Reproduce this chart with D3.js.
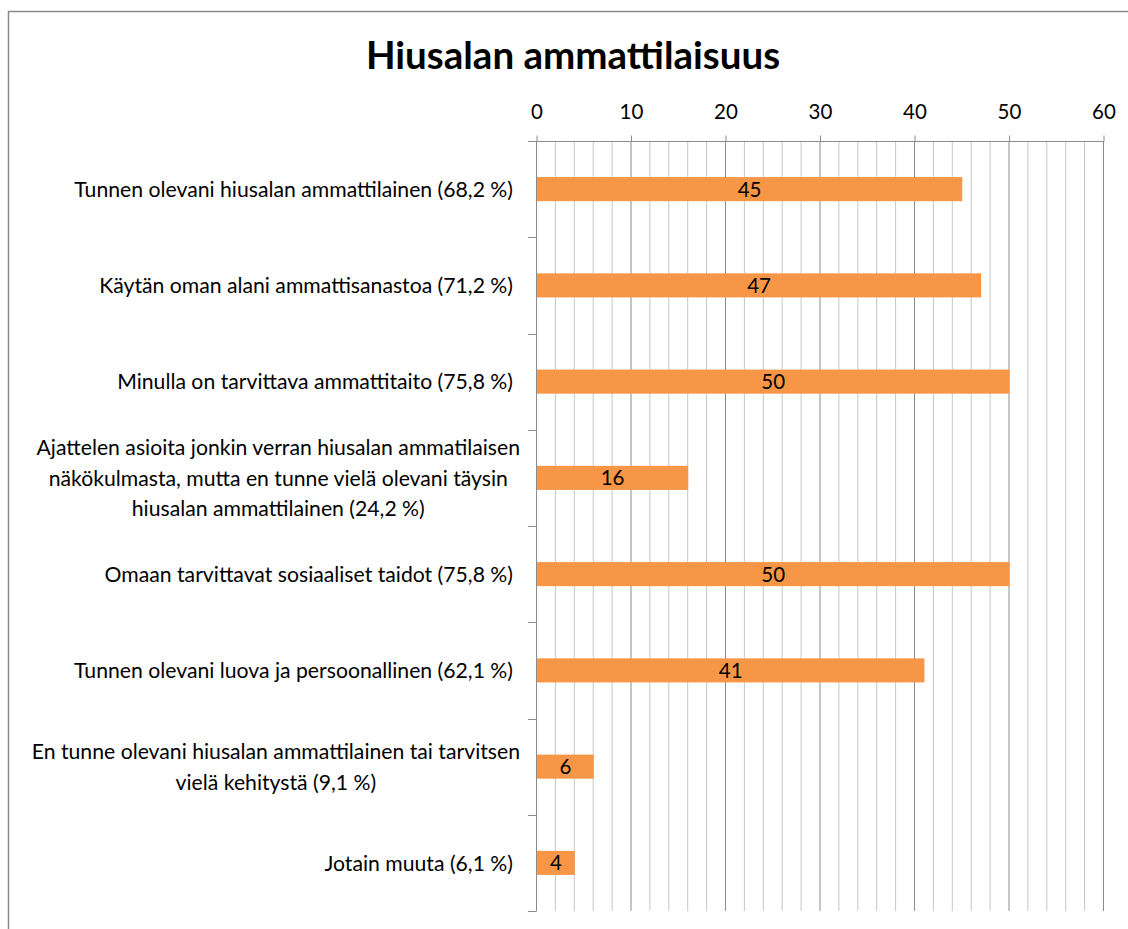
<!DOCTYPE html>
<html><head><meta charset="utf-8">
<script src="https://cdn.jsdelivr.net/npm/d3@7"></script>
<style>
body{margin:0;background:#fff;overflow:hidden}
text{font-family:Lato,"Open Sans",sans-serif;fill:#000}
</style></head><body>
<svg id="c" width="1128" height="929"></svg>
<script>
const title = "Hiusalan ammattilaisuus";
const categories = [
  "Tunnen olevani hiusalan ammattilainen (68,2 %)",
  "Käytän oman alani ammattisanastoa (71,2 %)",
  "Minulla on tarvittava ammattitaito (75,8 %)",
  "Ajattelen asioita jonkin verran hiusalan ammatilaisen\nnäkökulmasta, mutta en tunne vielä olevani täysin\nhiusalan ammattilainen (24,2 %)",
  "Omaan tarvittavat sosiaaliset taidot (75,8 %)",
  "Tunnen olevani luova ja persoonallinen (62,1 %)",
  "En tunne olevani hiusalan ammattilainen tai tarvitsen\nvielä kehitystä (9,1 %)",
  "Jotain muuta (6,1 %)"
];
const values = [45, 47, 50, 16, 50, 41, 6, 4];
const xTicks = [0, 10, 20, 30, 40, 50, 60];
const xMinorStep = 2;

const svg = d3.select("#c");
const LFS = 21.2;   // category label size
const TFS = 20.5;   // tick / data label size

// frame
svg.append("rect").attr("x", 8.5).attr("y", 11.5).attr("width", 1140).attr("height", 940)
  .attr("fill", "none").attr("stroke", "#8a8a8a").attr("stroke-width", 1.5);

const x = d3.scaleLinear().domain([0, 60]).range([536, 1103]);
const y = d3.scaleBand().domain(categories).range([141, 911]).paddingInner(0.75).paddingOuter(0.375);
const yb = d3.scaleBand().domain(categories).range([141, 911]);

// minor gridlines
const minor = d3.range(0, 61, xMinorStep).filter(v => v % 10 !== 0);
svg.append("g").selectAll("line").data(minor).join("line")
  .attr("x1", d => x(d) + 0.5).attr("x2", d => x(d) + 0.5)
  .attr("y1", 141).attr("y2", 911)
  .attr("stroke", "#c6c6c6").attr("stroke-width", 1);
// major gridlines
svg.append("g").selectAll("line").data(xTicks.filter(v => v > 0)).join("line")
  .attr("x1", d => x(d) + 0.5).attr("x2", d => x(d) + 0.5)
  .attr("y1", 141).attr("y2", 911)
  .attr("stroke", "#8c8c8c").attr("stroke-width", 1);

// top axis
const xAxis = d3.axisTop(x).tickValues(xTicks).tickSize(6).tickPadding(17).tickSizeOuter(0);
const gx = svg.append("g").attr("transform", "translate(0.5,141.5)").call(xAxis);
gx.select(".domain").attr("d", "M528,0H1103").attr("stroke", "#8c8c8c");
gx.selectAll(".tick line").attr("stroke", "#8c8c8c");
gx.selectAll(".tick text").attr("font-size", TFS).attr("font-family", "Lato").attr("fill", "#000").attr("dy", "0");

// left axis line + category ticks
svg.append("line").attr("x1", 536.5).attr("x2", 536.5).attr("y1", 141).attr("y2", 911.5)
  .attr("stroke", "#8c8c8c");
const bounds = categories.map(c => yb(c)).concat([911]);
svg.append("g").selectAll("line").data(bounds).join("line")
  .attr("x1", 528).attr("x2", 536).attr("y1", d => Math.round(d) + 0.5).attr("y2", d => Math.round(d) + 0.5)
  .attr("stroke", "#8c8c8c");

// bars
svg.append("g").selectAll("rect").data(values).join("rect")
  .attr("x", x(0) + 1).attr("y", (d, i) => y(categories[i]))
  .attr("width", d => x(d) - x(0)).attr("height", y.bandwidth())
  .attr("fill", "#F79646");

// data labels
svg.append("g").selectAll("text").data(values).join("text")
  .attr("x", d => (x(0) + x(d)) / 2 + 1)
  .attr("y", (d, i) => y(categories[i]) + y.bandwidth() / 2)
  .attr("dy", "0.36em").attr("text-anchor", "middle").attr("font-size", TFS)
  .text(d => d);

// category labels
const lg = svg.append("g");
categories.forEach(c => {
  const lines = c.split("\n");
  const cy = yb(c) + yb.bandwidth() / 2;
  const lh = 30.5;
  const t = lg.append("text").attr("font-size", LFS);
  lines.forEach((ln, j) => {
    t.append("tspan").attr("y", cy + (j - (lines.length - 1) / 2) * lh).attr("dy", "0.36em").text(ln);
  });
  if (lines.length === 1) {
    t.attr("text-anchor", "end").selectAll("tspan").attr("x", 513);
  } else {
    let maxW = 0;
    t.selectAll("tspan").each(function(){ maxW = Math.max(maxW, this.getComputedTextLength()); });
    t.attr("text-anchor", "middle").selectAll("tspan").attr("x", 520 - maxW / 2);
  }
});

// title
svg.append("text").attr("x", 573).attr("y", 69).attr("text-anchor", "middle")
  .attr("font-size", 38.5).attr("font-weight", "bold").text(title);
</script>
</body></html>
